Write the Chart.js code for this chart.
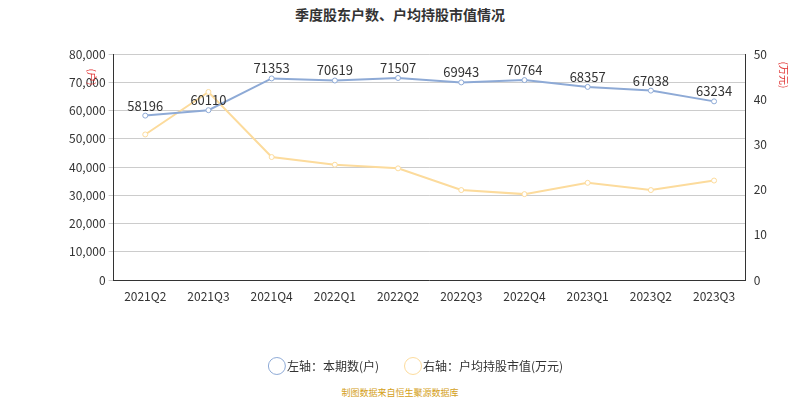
<!DOCTYPE html>
<html><head><meta charset="utf-8">
<script src="https://cdn.jsdelivr.net/npm/chart.js@4"></script>
<style>body{margin:0;background:#fff;font-family:"Noto Sans CJK SC",sans-serif}#w{position:relative;width:800px;height:400px}
#t{position:absolute;top:4px;width:800px;text-align:center;font-size:14px;font-weight:bold;color:#333}
#s{position:absolute;top:386px;width:800px;text-align:center;font-size:9px;color:#d4a017}</style></head>
<body><div id="w"><div id="t">季度股东户数、户均持股市值情况</div><div id="s">制图数据来自恒生聚源数据库</div>
<div style="position:absolute;top:30px;left:0;width:800px;height:352px"><canvas id="c"></canvas></div></div>
<script>
const categories=["2021Q2","2021Q3","2021Q4","2022Q1","2022Q2","2022Q3","2022Q4","2023Q1","2023Q2","2023Q3"];
const holders=[58196,60110,71353,70619,71507,69943,70764,68357,67038,63234];
const avgValue=[32.2,41.6,27.2,25.5,24.7,19.9,19.0,21.5,19.9,22.0];
const F='"Noto Sans CJK SC",sans-serif';
const labelsPlugin={id:'lp',afterDatasetsDraw(ch){const c=ch.ctx;const m=ch.getDatasetMeta(0);c.save();c.font='13px '+F;c.fillStyle='#333';c.textAlign='center';
m.data.forEach((p,i)=>c.fillText(holders[i],p.x,p.y-10));
c.fillStyle='#e03030';c.font='10px '+F;
c.translate(92,47);c.rotate(Math.PI/2);c.fillText('(户)',0,0);c.restore();
c.save();c.fillStyle='#e03030';c.font='10px '+F;c.textAlign='center';c.translate(784,45);c.rotate(Math.PI/2);c.fillText('(万元)',0,0);c.restore();}};
new Chart(document.getElementById('c'),{type:'line',data:{labels:categories,datasets:[
{label:'左轴：本期数(户)',data:holders,yAxisID:'y',borderColor:'#8eaad6',backgroundColor:'#fff',pointRadius:2.5,pointBorderWidth:1,borderWidth:2,tension:0},
{label:'右轴：户均持股市值(万元)',data:avgValue,yAxisID:'y1',borderColor:'#fcdb9c',backgroundColor:'#fff',pointRadius:2.5,pointBorderWidth:1,borderWidth:2,tension:0}]},
options:{responsive:true,maintainAspectRatio:false,animation:false,layout:{padding:{left:66,right:30,top:24,bottom:0}},
plugins:{legend:{position:'bottom',labels:{usePointStyle:true,pointStyle:'circle',boxWidth:8,color:'#333',font:{family:F,size:12},padding:30}},tooltip:{enabled:false}},
scales:{x:{offset:true,grid:{display:false,tickLength:5},border:{color:'#333'},ticks:{color:'#333',padding:4,font:{family:F,size:12}},afterFit(s){s.height=50}},
y:{min:0,max:80000,ticks:{stepSize:10000,color:'#333',font:{family:F,size:12},callback:v=>v.toLocaleString('en-US')},grid:{color:'#ccc',tickLength:5},border:{color:'#333',display:true}},
y1:{position:'right',min:0,max:50,ticks:{stepSize:10,color:'#333',font:{family:F,size:12}},grid:{display:false,tickLength:5},border:{color:'#333'}}}},
plugins:[labelsPlugin]});
</script></body></html>
